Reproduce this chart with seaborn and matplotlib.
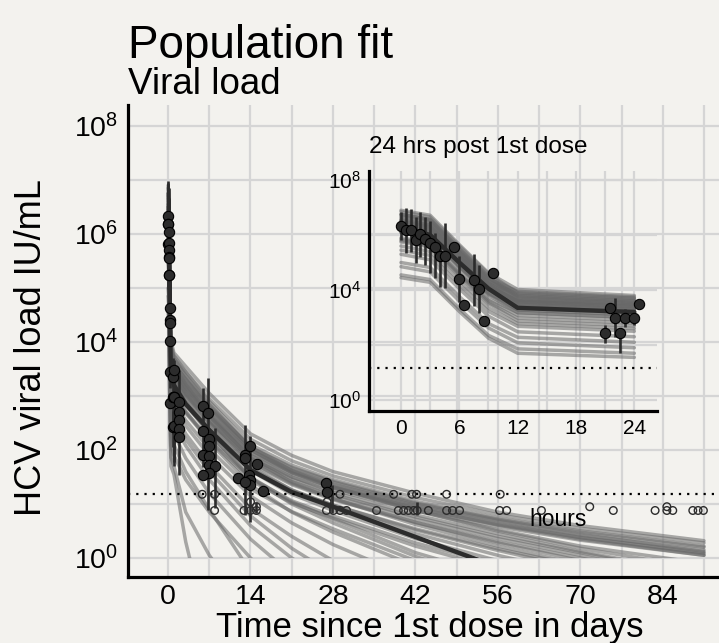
import numpy as np
import pandas as pd
import matplotlib
matplotlib.use("Agg")
import matplotlib.pyplot as plt
import seaborn as sns
from matplotlib.patches import Rectangle
from matplotlib.ticker import FixedLocator, FuncFormatter, NullFormatter

# ---------------- data (log10 IU/mL) ----------------
# knots of the simulated profiles, in days (first five = 0, 3, 6, 9, 12 hours)
knot_days = [0, 0.125, 0.25, 0.375, 0.5, 1, 3, 7, 14, 21, 28, 42, 56, 70, 91]

sim_group_a = [
    [6.90, 6.72, 5.65, 4.62, 4.02, 3.80, 3.55, 3.05, 2.30, 1.90, 1.60, 1.20, 0.85, 0.60, 0.32],
    [6.75, 6.58, 5.50, 4.50, 3.90, 3.70, 3.45, 2.95, 2.20, 1.80, 1.52, 1.12, 0.80, 0.55, 0.28],
    [6.75, 6.55, 5.45, 4.45, 3.80, 3.60, 3.32, 2.80, 2.05, 1.68, 1.42, 1.02, 0.72, 0.48, 0.20],
    [6.70, 6.52, 5.42, 4.42, 3.95, 3.75, 3.45, 2.90, 2.10, 1.72, 1.45, 1.05, 0.74, 0.50, 0.22],
    [6.50, 6.32, 5.25, 4.25, 3.68, 3.50, 3.22, 2.72, 2.00, 1.62, 1.36, 0.98, 0.68, 0.42, 0.15],
    [6.50, 6.30, 5.20, 4.20, 3.58, 3.40, 3.12, 2.62, 1.92, 1.56, 1.30, 0.92, 0.62, 0.38, 0.10],
    [6.55, 6.38, 5.32, 4.32, 3.85, 3.65, 3.35, 2.82, 2.05, 1.66, 1.40, 1.00, 0.70, 0.44, 0.12],
    [6.35, 6.15, 5.08, 4.10, 3.48, 3.30, 3.02, 2.52, 1.84, 1.50, 1.26, 0.88, 0.58, 0.33, 0.05],
    [6.75, 6.55, 5.48, 4.45, 3.75, 3.55, 3.25, 2.75, 2.00, 1.60, 1.34, 0.95, 0.64, 0.38, 0.08],
    [6.35, 6.18, 5.12, 4.12, 3.62, 3.45, 3.15, 2.65, 1.95, 1.58, 1.32, 0.93, 0.61, 0.35, 0.05],
]
sim_group_b = [
    [6.55, 6.36, 5.30, 4.30, 3.80, 3.60, 3.30, 2.78, 2.00, 1.58, 1.30, 0.88, 0.52, 0.22, -0.10],
    [6.65, 6.45, 5.38, 4.38, 3.70, 3.50, 3.20, 2.68, 1.90, 1.50, 1.22, 0.80, 0.45, 0.12, -0.30],
    [6.35, 6.16, 5.10, 4.12, 3.60, 3.40, 3.10, 2.58, 1.82, 1.42, 1.15, 0.72, 0.36, 0.05, -0.45],
    [6.40, 6.20, 5.12, 4.12, 3.48, 3.30, 3.00, 2.50, 1.75, 1.36, 1.08, 0.66, 0.30, 0.00, -0.50],
    [6.60, 6.42, 5.35, 4.35, 3.75, 3.55, 3.22, 2.65, 1.85, 1.40, 1.10, 0.62, 0.22, -0.12, -0.60],
    [6.10, 5.92, 4.85, 3.88, 3.38, 3.20, 2.90, 2.40, 1.66, 1.26, 0.98, 0.52, 0.14, -0.20, -0.70],
    [6.45, 6.26, 5.20, 4.20, 3.63, 3.45, 3.15, 2.62, 1.86, 1.46, 1.18, 0.76, 0.40, 0.10, -0.35],
    [6.50, 6.30, 5.22, 4.22, 3.55, 3.35, 3.05, 2.55, 1.78, 1.38, 1.10, 0.66, 0.28, -0.05, -0.55],
    [6.85, 6.66, 5.60, 4.58, 3.90, 3.70, 3.38, 2.85, 2.05, 1.62, 1.32, 0.88, 0.50, 0.18, -0.20],
    [6.10, 5.90, 4.85, 3.85, 3.28, 3.10, 2.82, 2.34, 1.62, 1.24, 0.98, 0.54, 0.17, -0.15, -0.65],
]
sim_group_c = [
    [6.45, 6.26, 5.20, 4.20, 3.58, 3.40, 3.05, 2.50, 1.70, 1.26, 0.96, 0.45, 0.05, -0.30, -0.80],
    [6.25, 6.06, 5.00, 4.02, 3.48, 3.30, 2.95, 2.42, 1.62, 1.18, 0.88, 0.36, -0.05, -0.40, -0.90],
    [6.10, 5.90, 4.82, 3.82, 3.18, 3.00, 2.68, 2.18, 1.44, 1.02, 0.74, 0.22, -0.20, -0.60, -1.10],
    [6.30, 6.10, 5.02, 4.02, 3.38, 3.20, 2.85, 2.30, 1.50, 1.04, 0.72, 0.10, -0.35, -0.75, -1.30],
    [5.85, 5.66, 4.60, 3.62, 3.08, 2.90, 2.55, 2.02, 1.28, 0.86, 0.54, -0.05, -0.50, -0.90, -1.40],
    [6.15, 5.96, 4.90, 3.90, 3.28, 3.10, 2.72, 2.15, 1.35, 0.85, 0.48, -0.15, -0.60, -1.00, -1.50],
    [5.80, 5.60, 4.55, 3.55, 2.98, 2.80, 2.45, 1.90, 1.15, 0.65, 0.25, -0.40, -0.90, -1.30, -1.80],
    [5.90, 5.72, 4.66, 3.68, 3.18, 3.00, 2.70, 2.22, 1.48, 1.06, 0.78, 0.28, -0.12, -0.50, -1.00],
    [6.25, 6.06, 5.00, 4.00, 3.43, 3.25, 2.88, 2.32, 1.48, 1.00, 0.65, 0.03, -0.45, -0.85, -1.40],
]
sim_group_d = [
    [5.75, 5.56, 4.50, 3.50, 2.88, 2.70, 2.30, 1.72, 0.92, 0.40, -0.05, -0.70, -1.30, -1.80, -2.50],
    [5.45, 5.26, 4.20, 3.22, 2.68, 2.50, 2.08, 1.45, 0.60, 0.00, -0.50, -1.20, -1.80, -2.40, -3.00],
    [5.30, 5.10, 4.05, 3.05, 2.48, 2.30, 1.85, 1.20, 0.35, -0.30, -0.80, -1.50, -2.20, -2.80, -3.50],
    [5.00, 4.82, 3.76, 2.78, 2.28, 2.10, 1.60, 0.90, -0.25, -1.00, -1.60, -2.40, -3.00, -3.50, -4.00],
    [5.60, 5.40, 4.35, 3.35, 2.78, 2.60, 2.20, 1.60, 0.78, 0.18, -0.30, -1.00, -1.60, -2.20, -2.80],
    [4.85, 4.66, 3.60, 2.62, 2.08, 1.90, 1.45, 0.85, 0.00, -0.70, -1.30, -2.00, -2.60, -3.20, -3.80],
]
sim_group_e = [
    [4.45, 4.28, 3.22, 2.25, 1.70, 1.55, 0.30, -1.50, -3.00, -4.00, -4.50, -5.00, -5.50, -6.00, -6.50],
    [4.55, 4.38, 3.32, 2.35, 1.86, 1.70, 0.85, 0.05, -1.00, -2.00, -2.80, -3.50, -4.00, -4.50, -5.00],
]
typical_log = [6.32, 6.00, 5.00, 4.05, 3.35, 3.20, 2.85, 2.37, 1.63, 1.22, 0.95, 0.39, -0.17, -0.75, -1.60]

# observed data in the first 24 h (hours, log10)
inset_hours = [0, 0.5, 1.0, 1.5, 2.0, 2.5, 3.0, 3.5, 4.0, 4.5, 5.5, 6.0, 6.5, 7.5, 8.0, 8.5, 9.5,
               21.0, 21.5, 22.0, 22.5, 23.0, 24.0, 24.5]
inset_log = [6.33, 6.18, 6.18, 5.82, 6.04, 5.84, 5.70, 5.58, 5.25, 5.25, 5.55, 4.40, 3.45, 4.36, 4.02, 2.87, 4.63,
             2.42, 3.36, 2.99, 2.45, 2.99, 2.99, 3.48]
inset_err_hours = [0, 0.5, 1.0, 1.5, 2.0, 2.5, 3.0, 3.5, 4.0, 4.5, 6.0, 7.5, 8.0, 21.0, 22.0, 22.5, 23.0, 24.0]
inset_err_low = [5.82, 5.36, 5.40, 4.99, 5.21, 4.91, 4.61, 4.42, 4.12, 4.06, 3.58, 3.42, 3.15, 2.06, 2.30, 1.70, 2.67, 2.73]
inset_err_high = [6.85, 6.98, 6.95, 6.65, 6.85, 6.67, 6.52, 6.06, 5.70, 6.45, 5.24, 5.31, 4.91, 2.73, 3.70, 2.61, 3.30, 3.09]

# later observed data (days, log10)
main_days = [1.9, 1.9, 1.9, 1.9, 1.9, 5.9, 6.85, 5.9, 7.0, 7.0, 5.9, 7.0, 7.0, 8.0, 7.0, 5.9,
             13.0, 13.0, 13.9, 15.1, 11.9, 13.8, 13.9, 13.9, 13.1, 16.1, 26.9, 27.0]
main_log = [2.88, 2.70, 2.56, 2.38, 2.25, 2.81, 2.69, 2.36, 2.20, 2.07, 1.91, 1.89, 1.72, 1.70, 1.58, 1.53,
            1.91, 1.86, 2.07, 1.74, 1.48, 1.54, 1.45, 1.35, 1.41, 1.24, 1.39, 1.23]
main_err_days = [1.0, 1.9, 5.9, 6.85, 8.0, 13.0, 13.9, 15.0, 27.9, 42.2]
main_err_low = [1.78, 1.54, 1.69, 0.89, 0.93, 0.80, 0.67, 0.83, 0.83, 0.80]
main_err_high = [3.67, 3.49, 3.15, 3.33, 2.41, 2.46, 2.26, 1.04, 1.35, 1.04]

# below-quantification observations (open circles)
blq_days = [5.8, 7.9, 29.2, 38.3, 41.4, 42.2, 47.3, 56.4, 14.0, 27.0, 15.0, 71.6, 84.7,
            7.9, 12.9, 14.0, 15.0, 26.9, 28.1, 29.2, 30.3, 35.4, 39.1, 40.0, 40.8, 41.7, 42.3,
            44.2, 47.3, 48.3, 49.5, 56.3, 57.5, 63.4, 75.6, 82.7, 84.7, 85.7, 89.1, 90.0, 90.9]
blq_log = [1.18, 1.18, 1.18, 1.18, 1.18, 1.18, 1.18, 1.18, 1.04, 1.04, 0.95, 0.95, 0.95,
           0.88, 0.88, 0.88, 0.88, 0.88, 0.88, 0.88, 0.88, 0.88, 0.88, 0.88, 0.88, 0.88, 0.88,
           0.88, 0.88, 0.88, 0.88, 0.88, 0.88, 0.88, 0.88, 0.88, 0.88, 0.88, 0.88, 0.88, 0.88]
lloq = 15

main_xticks = [0, 14, 28, 42, 56, 70, 84]
inset_xticks = [0, 6, 12, 18, 24]

# ---------------- style ----------------
bg = "#f3f2ee"
grid_c = "#d5d5d5"
sns.set_theme(style="whitegrid", rc={
    "figure.facecolor": bg, "axes.facecolor": bg, "savefig.facecolor": bg,
    "grid.color": grid_c, "grid.linewidth": 1.6,
})
plt.rcParams["font.family"] = ["Liberation Sans", "DejaVu Sans"]
plt.rcParams["mathtext.fontset"] = "custom"
plt.rcParams["mathtext.rm"] = "Liberation Sans"
plt.rcParams["mathtext.it"] = "Liberation Sans:italic"
plt.rcParams["mathtext.bf"] = "Liberation Sans:bold"

line_c = "#686868"
line_alpha = 0.55
line_w = 2.5
dark = "#2c2c2c"

# ---------------- tidy tables ----------------
rows = []
for gname, group in [("a", sim_group_a), ("b", sim_group_b), ("c", sim_group_c),
                     ("d", sim_group_d), ("e", sim_group_e)]:
    for i, vals in enumerate(group):
        for d, v in zip(knot_days, vals):
            rows.append((f"{gname}{i}", d, d * 24, 10.0 ** v))
sim = pd.DataFrame(rows, columns=["line", "day", "hour", "vl"])
typ = pd.DataFrame({"day": knot_days, "hour": [d * 24 for d in knot_days],
                    "vl": [10.0 ** v for v in typical_log]})

obs_main = pd.DataFrame({"day": [h / 24 for h in inset_hours] + main_days,
                         "vl": [10.0 ** v for v in inset_log + main_log]})
obs_ins = pd.DataFrame({"hour": inset_hours, "vl": [10.0 ** v for v in inset_log]})
blq = pd.DataFrame({"day": blq_days, "vl": [10.0 ** v for v in blq_log]})


def fmt_pow(v, p):
    return r"$\mathdefault{10^{%d}}$" % int(round(np.log10(v)))


W, H = 719, 643
fig = plt.figure(figsize=(W / 100, H / 100), dpi=100)

# ---------------- main axes ----------------
ax = fig.add_axes([128 / W, 1 - 577 / H, 591 / W, 472 / H])
ax.set_yscale("log")
ax.set_xlim(-6.8, 93.55)
ax.set_ylim(10 ** -0.352, 10 ** 8.39)
ax.set_axisbelow(True)

n0 = len(ax.lines)
sns.lineplot(data=sim, x="day", y="vl", units="line", estimator=None, color=line_c,
             alpha=line_alpha, lw=line_w, legend=False, ax=ax, zorder=2)
sns.lineplot(data=typ, x="day", y="vl", color=dark, lw=3.2, ax=ax, zorder=3)
clip_rect = Rectangle((-10, 1), 200, 1e9, transform=ax.transData)
for ln in ax.lines[n0:]:
    ln.set_clip_path(clip_rect)

ax.axhline(lloq, color="black", lw=1.6, ls=(0, (1, 2.7)), zorder=3.5)
ax.vlines([h / 24 for h in inset_err_hours] + main_err_days,
          [10.0 ** v for v in inset_err_low + main_err_low],
          [10.0 ** v for v in inset_err_high + main_err_high],
          color=dark, lw=1.9, zorder=4)
sns.scatterplot(data=obs_main, x="day", y="vl", s=55, color=dark, edgecolor="black",
                linewidth=0.8, ax=ax, zorder=5, legend=False)
sns.scatterplot(data=blq, x="day", y="vl", s=30, color=dark, ax=ax, zorder=5, legend=False)
c = ax.collections[-1]
c.set_facecolor("none")
c.set_edgecolor(dark)
c.set_linewidth(1.0)

ax.xaxis.set_major_locator(FixedLocator(main_xticks))
ax.xaxis.set_minor_locator(FixedLocator([7, 21, 35, 49, 63, 77, 91]))
ax.yaxis.set_major_locator(FixedLocator([1e0, 1e2, 1e4, 1e6, 1e8]))
ax.yaxis.set_minor_locator(FixedLocator([1e1, 1e3, 1e5, 1e7]))
ax.yaxis.set_major_formatter(FuncFormatter(fmt_pow))
ax.yaxis.set_minor_formatter(NullFormatter())
ax.xaxis.set_minor_formatter(NullFormatter())
ax.grid(which="both", color=grid_c, lw=1.6)
ax.tick_params(which="both", length=0, labelsize=20.5, colors="black")
ax.tick_params(axis="x", pad=5)
ax.tick_params(axis="y", pad=7)
for s in ["top", "right"]:
    ax.spines[s].set_visible(False)
for s in ["left", "bottom"]:
    ax.spines[s].set_color("black")
    ax.spines[s].set_linewidth(2.3)

ax.set_xlabel("Time since 1st dose in days", fontsize=25, color="black")
ax.set_ylabel("HCV viral load IU/mL", fontsize=26, color="black")
ax.xaxis.set_label_coords(0.511, -0.0715)
ax.yaxis.set_label_coords(-0.134, 0.487)

# ---------------- inset ----------------
ins = fig.add_axes([369.3 / W, 1 - 411 / H, 287.4 / W, 240.3 / H])
ins.set_facecolor("none")
ins.set_yscale("log")
ins.set_xlim(-3.26, 26.3)
ins.set_ylim(10 ** -0.4, 10 ** 8.34)
ins.set_axisbelow(True)

sim_day1 = sim[sim["day"] <= 1]
typ_day1 = typ[typ["day"] <= 1]
sns.lineplot(data=sim_day1, x="hour", y="vl", units="line", estimator=None, color=line_c,
             alpha=line_alpha, lw=line_w, legend=False, ax=ins, zorder=2)
sns.lineplot(data=typ_day1, x="hour", y="vl", color=dark, lw=3.2, ax=ins, zorder=3)
ins.axhline(lloq, color="black", lw=1.6, ls=(0, (1, 2.7)), zorder=3.5)
ins.vlines(inset_err_hours, [10.0 ** v for v in inset_err_low],
           [10.0 ** v for v in inset_err_high], color=dark, lw=1.9, zorder=4)
sns.scatterplot(data=obs_ins, x="hour", y="vl", s=55, color=dark, edgecolor="black",
                linewidth=0.8, ax=ins, zorder=5, legend=False)

ins.xaxis.set_major_locator(FixedLocator(inset_xticks))
ins.xaxis.set_minor_locator(FixedLocator([3, 9, 15, 21]))
ins.yaxis.set_major_locator(FixedLocator([1e0, 1e4, 1e8]))
ins.yaxis.set_minor_locator(FixedLocator([1e2, 1e6]))
ins.yaxis.set_major_formatter(FuncFormatter(fmt_pow))
ins.yaxis.set_minor_formatter(NullFormatter())
ins.xaxis.set_minor_formatter(NullFormatter())
ins.grid(which="both", color=grid_c, lw=1.6)
ins.tick_params(which="both", length=0, labelsize=15, colors="black", pad=6)
for s in ["top", "right"]:
    ins.spines[s].set_visible(False)
for s in ["left", "bottom"]:
    ins.spines[s].set_color("black")
    ins.spines[s].set_linewidth(2.3)
ins.set_xlabel("")
ins.set_ylabel("")

# ---------------- texts ----------------
fig.text(128 / W, 1 - 58 / H, "Population fit", fontsize=33, va="baseline", ha="left", color="black")
fig.text(128 / W, 1 - 94 / H, "Viral load", fontsize=26.5, va="baseline", ha="left", color="black")
fig.text(369 / W, 1 - 153 / H, "24 hrs post 1st dose", fontsize=17.5, va="baseline", ha="left", color="black")
fig.text(558 / W, 1 - 519 / H, "hours", fontsize=16.5, va="center", ha="center", color="black")

fig.savefig("out.png", dpi=100, facecolor=bg)
